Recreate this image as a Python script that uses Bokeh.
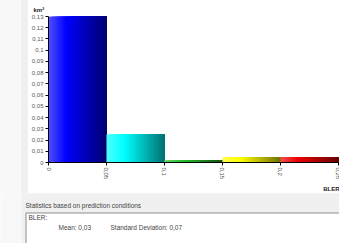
from bokeh.plotting import figure
from bokeh.models import Range1d, FixedTicker, Title, Spacer
from bokeh.layouts import row, column
from bokeh.core.properties import value
from bokeh.embed import file_html
from bokeh.resources import INLINE

# ---- data ----
bin_edges = [0.0, 0.05, 0.10, 0.15, 0.20, 0.25]
area_km2 = [0.13, 0.025, 0.002, 0.005, 0.005]
y_ticks = [0.0, 0.01, 0.02, 0.03, 0.04, 0.05, 0.06, 0.07, 0.08, 0.09, 0.10, 0.11, 0.12, 0.13]
y_tick_labels = ["0", "0,01", "0,02", "0,03", "0,04", "0,05", "0,06", "0,07",
                 "0,08", "0,09", "0,1", "0,11", "0,12", "0,13"]
x_ticks = [0.0, 0.05, 0.10, 0.15, 0.20, 0.25]
x_tick_labels = ["0", "0,05", "0,1", "0,15", "0,2", "0,25"]
y_unit = "km²"
x_name = "BLER"
stats_title = "Statistics based on prediction conditions"
stat_mean = "0,03"
stat_std = "0,07"

# ---- styles ----
bar_colors = [(0, 0, 255), (0, 255, 255), (40, 190, 40), (255, 255, 0), (235, 0, 0)]
tick_col = "#555555"
FONT = "Liberation Sans"
PANEL = "#f0f0f0"
OUTSIDE = "#f8f8f8"

# ---------------- top: chart ----------------
TOP_W, TOP_H = 311, 193
p = figure(width=TOP_W, height=TOP_H, output_backend="svg", toolbar_location=None,
           x_range=Range1d(0, 0.2509), y_range=Range1d(0, 0.13),
           min_border_left=20, min_border_right=0,
           min_border_top=16, min_border_bottom=31)
p.outline_line_color = None
p.border_fill_color = "white"
p.background_fill_color = "white"
p.xgrid.visible = False
p.ygrid.visible = False

p.title.text = y_unit
p.title.text_font = FONT
p.title.text_font_size = "6px"
p.title.text_font_style = "bold"
p.title.text_color = "#222222"
p.title.align = "left"
p.title.offset = -15
p.title.standoff = 7

xt = Title(text=x_name, align="right", text_font=FONT, text_font_size="6px",
           text_font_style="bold", text_color="#222222", standoff=2)
p.add_layout(xt, "below")

N = 40


def mix(c1, c2, t):
    return tuple(int(round(a + (b - a) * t)) for a, b in zip(c1, c2))


for i in range(len(area_km2)):
    x0, x1 = bin_edges[i], bin_edges[i + 1]
    base = bar_colors[i]
    light = mix(base, (255, 255, 255), 0.3)
    dark = mix(base, (0, 0, 0), 0.55)
    lefts, rights, cols = [], [], []
    for k in range(N):
        t = k / (N - 1)
        if t < 0.3:
            c = mix(light, base, t / 0.3)
        else:
            c = mix(base, dark, (t - 0.3) / 0.7)
        lefts.append(x0 + (x1 - x0) * k / N)
        rights.append(x1)
        cols.append("#%02x%02x%02x" % c)
    p.quad(left=lefts, right=rights, bottom=0, top=[area_km2[i]] * N,
           fill_color=cols, line_color=None)

for ax in (p.xaxis[0], p.yaxis[0]):
    ax.axis_line_color = "black"
    ax.major_tick_line_color = "black"
    ax.minor_tick_line_color = None
    ax.major_tick_in = 0
    ax.major_tick_out = 3
    ax.major_label_text_font = FONT
    ax.major_label_text_font_size = "6px"
    ax.major_label_text_color = tick_col
    ax.major_label_standoff = 2

p.yaxis.ticker = FixedTicker(ticks=y_ticks)
p.yaxis.major_label_overrides = {t: l for t, l in zip(y_ticks, y_tick_labels)}
p.xaxis.ticker = FixedTicker(ticks=x_ticks)
p.xaxis.major_label_overrides = {t: l for t, l in zip(x_ticks, x_tick_labels)}
p.xaxis.major_label_orientation = "vertical"

left_white = Spacer(width=21, height=TOP_H, styles={"background-color": OUTSIDE})
left_gray = Spacer(width=7, height=TOP_H, styles={"background-color": PANEL})
top = row(left_white, left_gray, p, spacing=0)

# ---------------- bottom: statistics panel ----------------
BOT_H = 50  # ref y 193 -> 243
q = figure(width=339, height=BOT_H, output_backend="svg", toolbar_location=None,
           x_range=Range1d(0, 339), y_range=Range1d(243, 193),
           x_axis_type=None, y_axis_type=None,
           min_border_left=0, min_border_right=0, min_border_top=0, min_border_bottom=0)
q.outline_line_color = None
q.border_fill_color = OUTSIDE
q.background_fill_color = OUTSIDE
q.xgrid.visible = False
q.ygrid.visible = False

q.quad(left=[21], right=[345], top=[190], bottom=[250], fill_color=PANEL, line_color=None)
q.quad(left=[25.5], right=[345], top=[212.5], bottom=[250], fill_color="white",
       line_color="#8c8c8c", line_width=1)

txt_x = [25, 28, 58, 110]
txt_y = [205, 217, 227, 227]
txt = [stats_title, "BLER:", "Mean: " + stat_mean, "Standard Deviation: " + stat_std]
q.text(x=txt_x, y=txt_y, text=txt, text_font=value(FONT), text_font_size="6.5px",
       text_color="#444444", text_baseline="middle", text_align="left")

layout = column(top, q, spacing=0)
open("out.html", "w").write(file_html(layout, INLINE))
